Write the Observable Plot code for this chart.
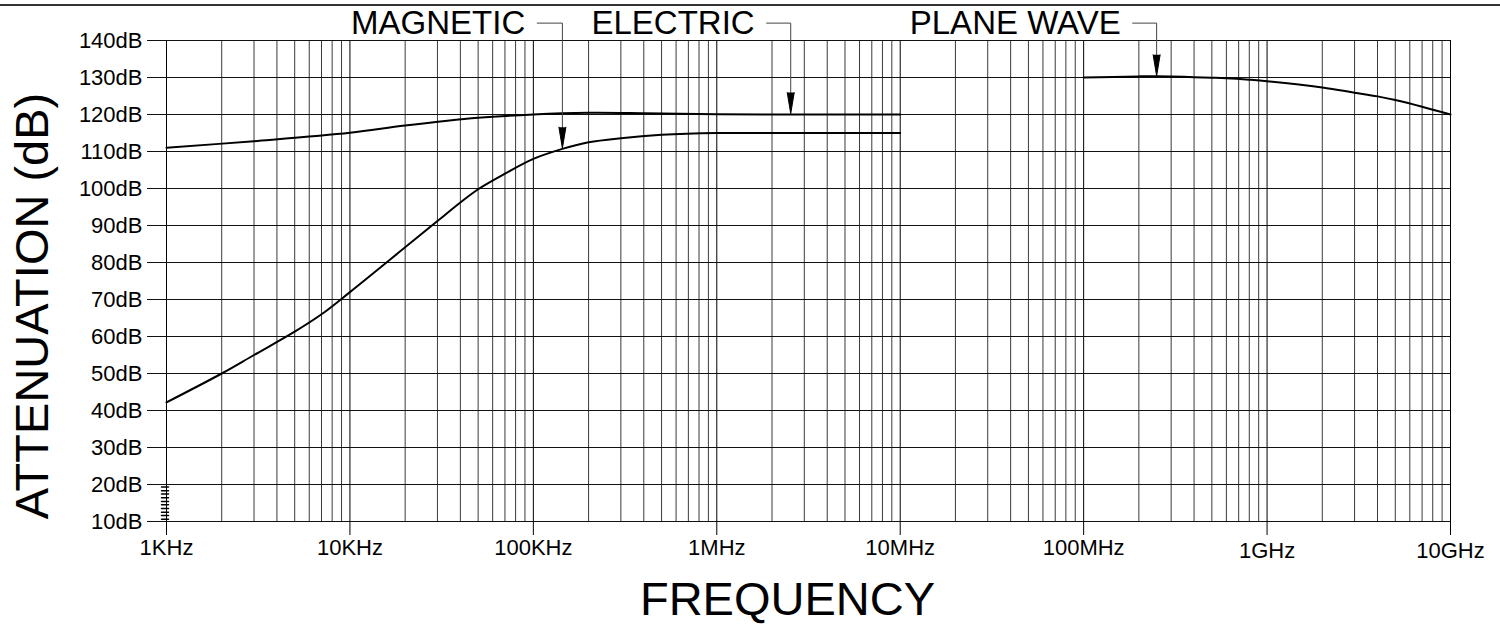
<!DOCTYPE html>
<html>
<head>
<meta charset="utf-8">
<script src="https://cdn.jsdelivr.net/npm/d3@7"></script>
<script src="https://cdn.jsdelivr.net/npm/@observablehq/plot@0.6"></script>
<style>
  html, body { margin: 0; padding: 0; background: #fff; }
  #wrap { position: relative; width: 1500px; height: 624px; overflow: hidden; }
  #topline { position: absolute; left: 0; top: 4px; width: 1500px; height: 2px; background: #333; }
</style>
</head>
<body>
<div id="wrap"><div id="topline"></div></div>
<script>
// ---- axis ticks ----
const freqTicks = [1e3, 1e4, 1e5, 1e6, 1e7, 1e8, 1e9, 1e10];
const freqLabels = ["1KHz", "10KHz", "100KHz", "1MHz", "10MHz", "100MHz", "1GHz", "10GHz"];
const minorMultipliers = [2, 3, 4, 5, 6, 7, 8, 9];
const dbTicks = [10, 20, 30, 40, 50, 60, 70, 80, 90, 100, 110, 120, 130, 140];
const breakMarks = [10.6, 11.6, 12.5, 13.5, 14.5, 15.4, 16.4, 17.4, 18.3, 19.3];

// ---- series ----
const magneticFreq = [1e3, 2e3, 3e3, 5e3, 7e3, 1e4, 2e4, 3e4, 4e4, 5e4, 7e4, 1e5, 1.44e5, 2e5, 3e5, 5e5, 1e6, 2e6, 1e7];
const magneticDb   = [42.2, 50.0, 55.0, 61.3, 66.0, 72.0, 84.1, 91.2, 96.2, 99.8, 104.0, 108.0, 110.7, 112.5, 113.6, 114.5, 115.0, 115.0, 115.0];

const electricFreq = [1e3, 3e3, 1e4, 2e4, 5e4, 1e5, 2e5, 4e5, 1e6, 3e6, 1e7];
const electricDb   = [111.0, 112.8, 115.05, 117.0, 119.1, 120.0, 120.45, 120.35, 120.05, 120.0, 120.0];

const planeFreq = [1e8, 2e8, 2.5e8, 3e8, 4e8, 5e8, 6e8, 8e8, 1e9, 2e9, 3e9, 4e9, 5e9, 7e9, 1e10];
const planeDb   = [130.0, 130.3, 130.35, 130.3, 130.1, 129.95, 129.8, 129.4, 129.0, 127.3, 125.9, 124.9, 123.9, 122.1, 120.0];

// ---- annotations ----
const annLabels = ["MAGNETIC", "ELECTRIC", "PLANE WAVE"];
const annStart  = [1.05e5, 1.87e6, 1.85e8];
const annArrow  = [1.44e5, 2.53e6, 2.5e8];
const annTip    = [110.9, 120.25, 130.45];
const annLevel  = 144.7;

const toRows = (fs, vs) => fs.map((f, i) => ({f, v: vs[i]}));
const magnetic = toRows(magneticFreq, magneticDb);
const electric = toRows(electricFreq, electricDb);
const plane = toRows(planeFreq, planeDb);

const minorTicks = freqTicks.slice(0, -1).flatMap(d => minorMultipliers.map(m => d * m));
const labelOf = d => freqLabels[freqTicks.indexOf(d)];
const annIdx = annLabels.map((_, i) => i);
const leaders = annIdx.flatMap(i => [
  {i, f: annStart[i], v: annLevel},
  {i, f: annArrow[i], v: annLevel},
  {i, f: annArrow[i], v: annTip[i] + 3}
]);

const font = "'Liberation Sans', Arial, Helvetica, sans-serif";
const lineShape = {draw(context, l) { context.moveTo(0, 0); context.lineTo(0, -l); }};

const chart = Plot.plot({
  width: 1500,
  height: 624,
  marginLeft: 166,
  marginRight: 50,
  marginTop: 40,
  marginBottom: 103,
  x: {type: "log", domain: [1e3, 1e10], label: null},
  y: {domain: [10, 140], label: null},
  style: {fontFamily: font, fontSize: "22px", background: "transparent", color: "#000", overflow: "visible"},
  marks: [
    Plot.ruleX(minorTicks, {y1: 10, y2: 140, stroke: "#3a3a3a", strokeWidth: 1}),
    Plot.ruleX(freqTicks, {y1: 10, y2: 140, stroke: "#000", strokeWidth: 1}),
    Plot.ruleY(dbTicks, {x1: 1e3, x2: 1e10, stroke: "#111", strokeWidth: 1}),
    Plot.axisY({ticks: dbTicks, tickFormat: d => d + "dB", tickSize: 19, tickPadding: 5, fontSize: 22, stroke: "#111"}),
    Plot.axisX({ticks: freqTicks.slice(0, 6), tickFormat: labelOf, tickSize: 14, tickPadding: 4, fontSize: 22}),
    Plot.axisX({ticks: freqTicks.slice(6), tickFormat: labelOf, tickSize: 14, tickPadding: 7, fontSize: 22}),
    Plot.vector(breakMarks, {x: () => 1e3, y: d => d, rotate: 90, length: 7, anchor: "middle", shape: lineShape, dx: -1.5, stroke: "#000", strokeWidth: 1.5}),
    Plot.line(electric, {x: "f", y: "v", curve: "catmull-rom", stroke: "#000", strokeWidth: 2}),
    Plot.line(magnetic, {x: "f", y: "v", curve: "catmull-rom", stroke: "#000", strokeWidth: 2}),
    Plot.line(plane, {x: "f", y: "v", curve: "catmull-rom", stroke: "#000", strokeWidth: 2}),
    Plot.line(leaders, {x: "f", y: "v", z: "i", stroke: "#444", strokeWidth: 1}),
    Plot.vector(annIdx, {x: i => annArrow[i], y: i => annTip[i], rotate: 180, length: 21, r: 3.5, shape: "spike", anchor: "end", fill: "#000", stroke: "#000", strokeWidth: 1}),
    Plot.text(annIdx, {x: i => annStart[i], y: () => annLevel, text: i => annLabels[i], textAnchor: "end", lineAnchor: "middle", dx: -12, fontSize: 33}),
    Plot.text(["FREQUENCY"], {text: d => d, frameAnchor: "bottom", textAnchor: "middle", dx: -21, dy: 78, lineAnchor: "middle", fontSize: 47}),
    Plot.text(["ATTENUATION (dB)"], {text: d => d, frameAnchor: "left", textAnchor: "middle", rotate: -90, dx: -134, dy: 25, lineAnchor: "middle", fontSize: 47})
  ]
});
document.getElementById("wrap").prepend(chart);
</script>
</body>
</html>
